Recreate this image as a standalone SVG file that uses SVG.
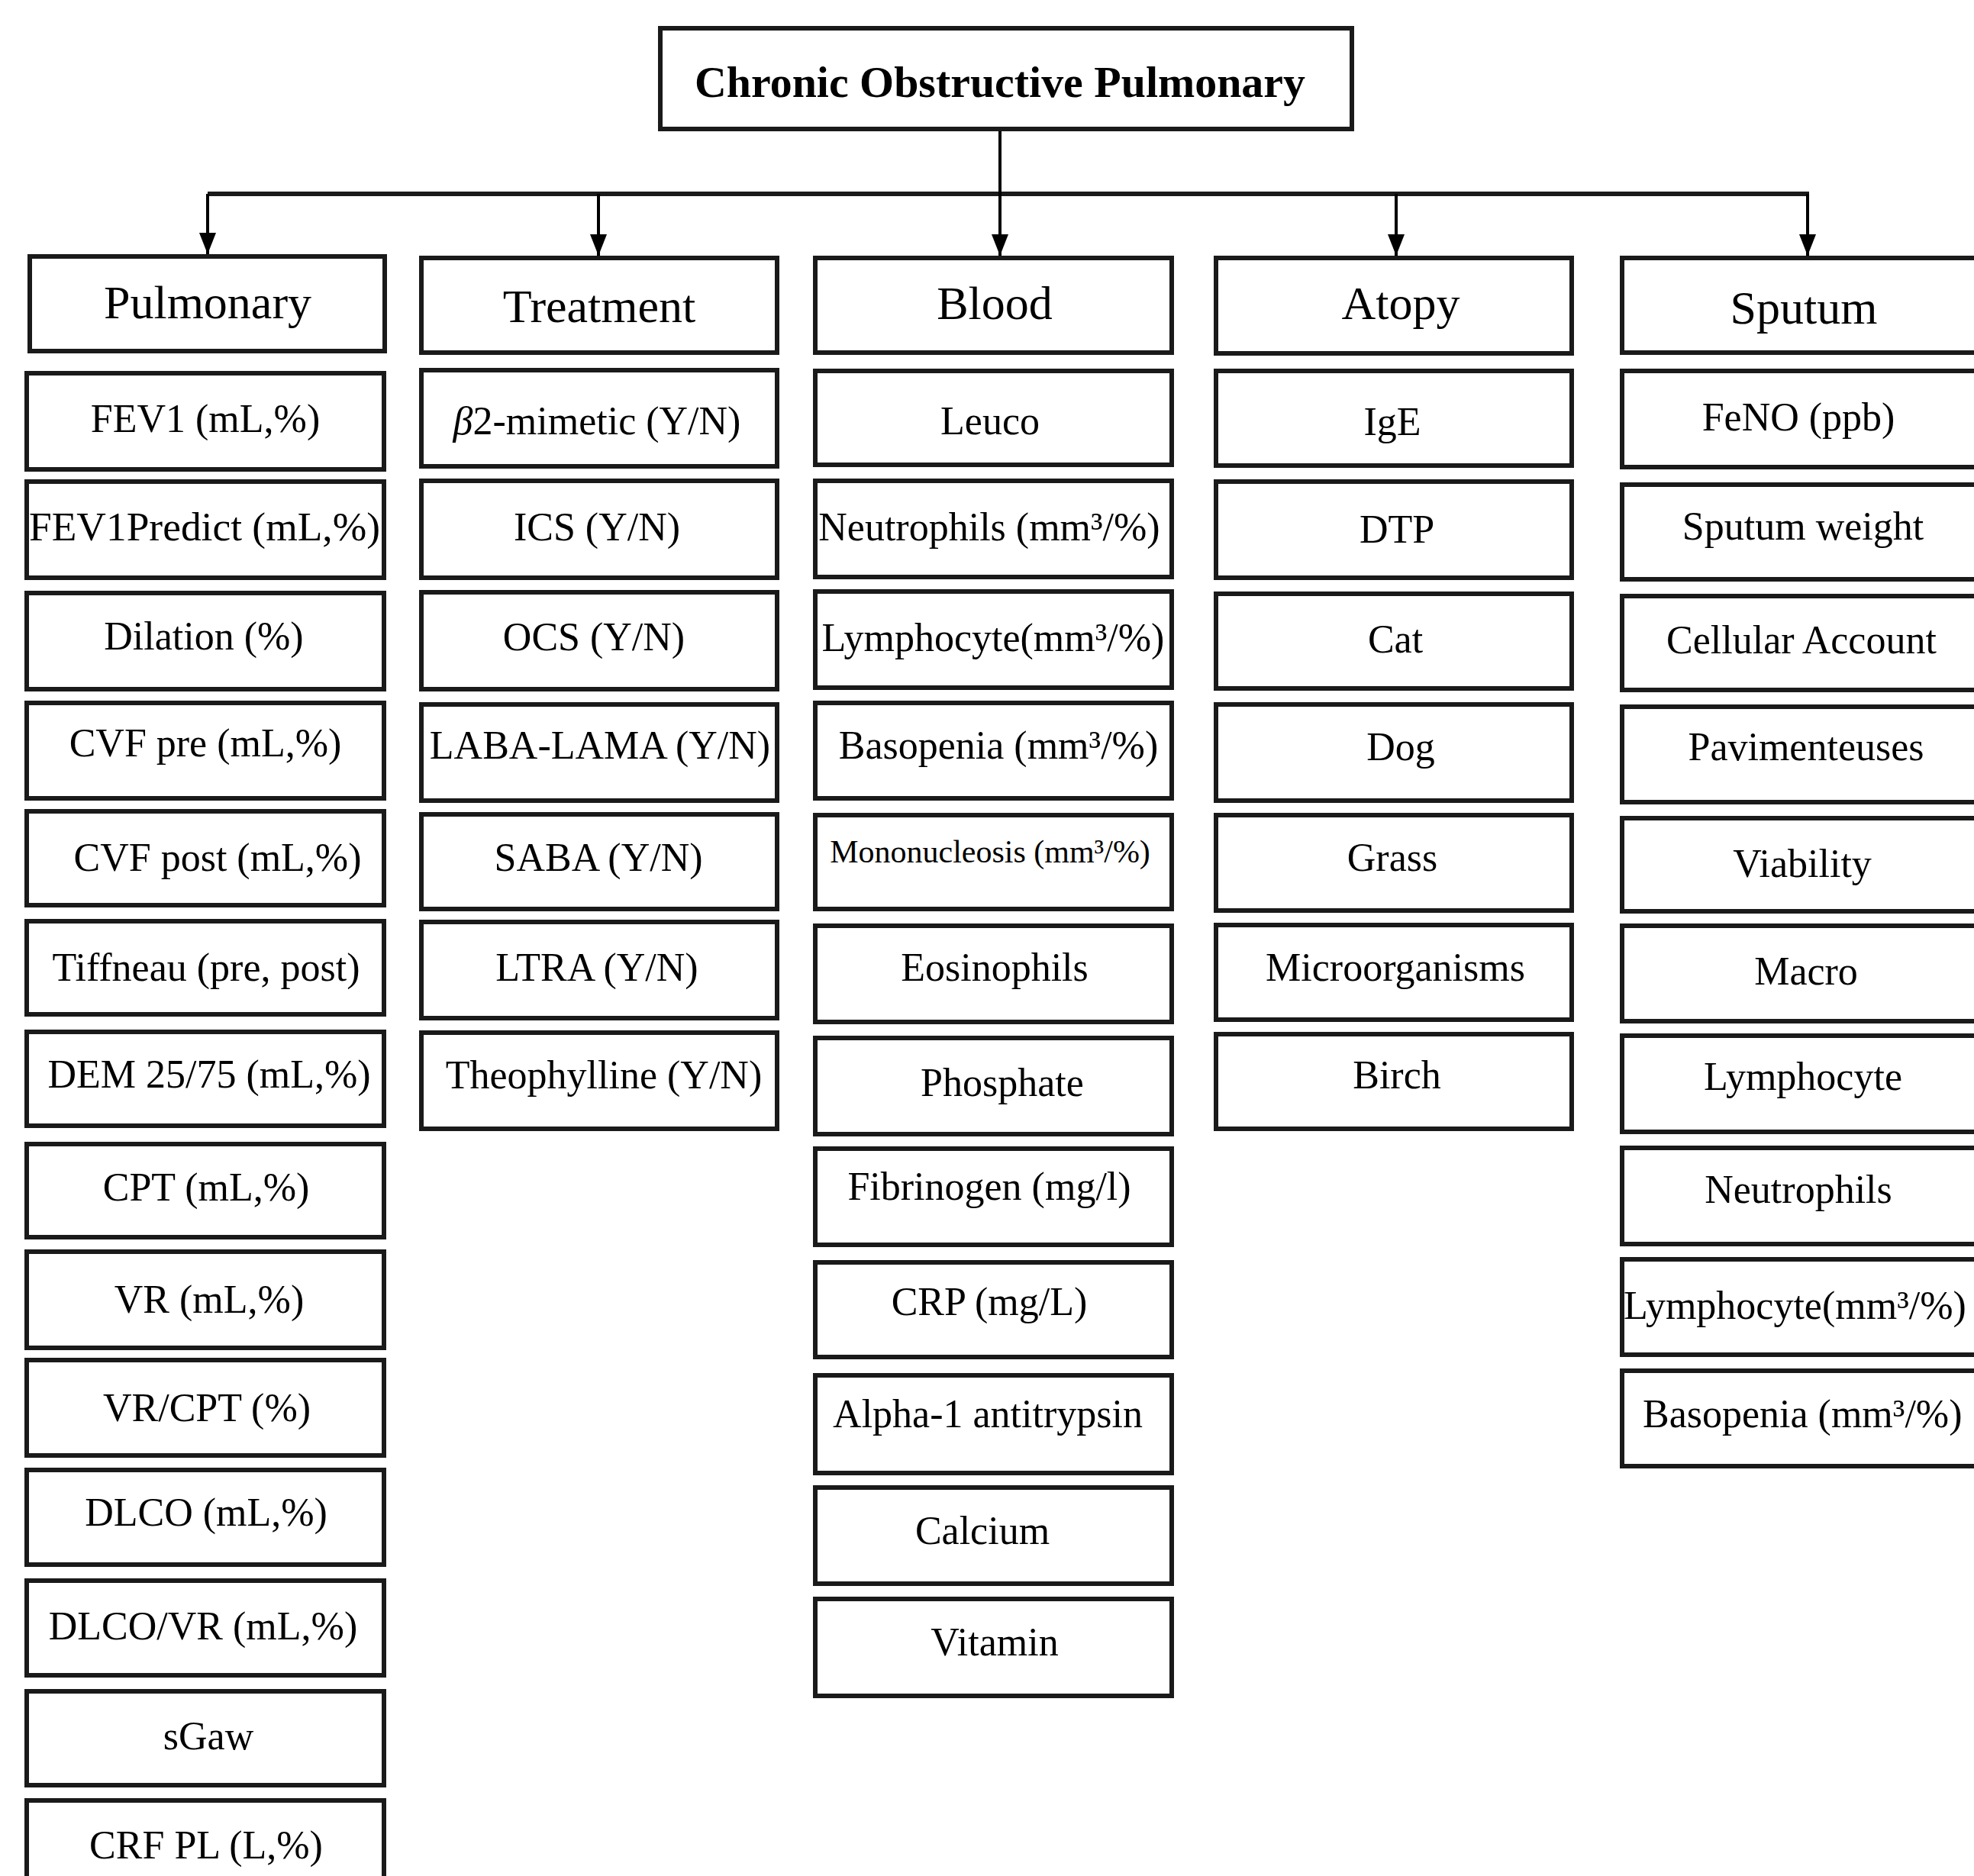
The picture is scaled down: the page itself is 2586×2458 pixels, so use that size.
<svg xmlns="http://www.w3.org/2000/svg" width="2586" height="2458" viewBox="0 0 2586 2458">
<defs>
<style>
.b{fill:#fff;stroke:#1a1a1a;stroke-width:6}
.t{font-family:"Liberation Serif","Times New Roman",serif;font-size:52px;fill:#000;text-anchor:middle}
.h{font-size:62px}
.sm{font-size:42px}
.st{text-anchor:start}
.ttl{font-family:"Liberation Serif","Times New Roman",serif;font-size:57px;font-weight:bold;fill:#000;text-anchor:middle}
.c{stroke:#000;stroke-width:4;fill:none}
.bus{stroke:#1a1a1a;stroke-width:6;fill:none}
</style>
<marker id="ah" viewBox="0 0 28 22" refX="28" refY="11" markerWidth="28" markerHeight="22" markerUnits="userSpaceOnUse" orient="auto">
<path d="M0,0 L28,11 L0,22 Z" fill="#000"/>
</marker>
</defs>
<rect width="2586" height="2458" fill="#fff"/>
<g id="connectors">
<line class="bus" x1="272" y1="254" x2="2370" y2="254"/>
<line class="c" x1="1310" y1="172" x2="1310" y2="254"/>
<path class="c" d="M272,254 L272,333" marker-end="url(#ah)"/>
<path class="c" d="M784,254 L784,335" marker-end="url(#ah)"/>
<path class="c" d="M1310,254 L1310,335" marker-end="url(#ah)"/>
<path class="c" d="M1829,254 L1829,335" marker-end="url(#ah)"/>
<path class="c" d="M2368,254 L2368,335" marker-end="url(#ah)"/>
</g>
<g id="root"><rect class="b" x="865" y="37" width="906" height="132"/><text class="ttl" x="1310" y="127" textLength="800" lengthAdjust="spacingAndGlyphs">Chronic Obstructive Pulmonary</text></g>
<g id="pulmonary"><rect class="b" x="39" y="336" width="465" height="124"/><text class="t h" x="272" y="417">Pulmonary</text></g>
<g id="treatment"><rect class="b" x="552" y="338" width="466" height="124"/><text class="t h" x="785" y="422">Treatment</text></g>
<g id="blood"><rect class="b" x="1068" y="338" width="467" height="124"/><text class="t h" x="1303" y="418">Blood</text></g>
<g id="atopy"><rect class="b" x="1593" y="338" width="466" height="125"/><text class="t h" x="1835" y="418">Atopy</text></g>
<g id="sputum"><rect class="b" x="2125" y="338" width="470" height="124"/><text class="t h" x="2363" y="424">Sputum</text></g>

<g id="p1"><rect class="b" x="35" y="489" width="468" height="126"/><text class="t" x="269" y="566">FEV1 (mL,%)</text></g>
<g id="p2"><rect class="b" x="35" y="631" width="468" height="126"/><text class="t" x="268" y="708" textLength="460" lengthAdjust="spacingAndGlyphs">FEV1Predict (mL,%)</text></g>
<g id="p3"><rect class="b" x="35" y="777" width="468" height="126"/><text class="t" x="267" y="851">Dilation (%)</text></g>
<g id="p4"><rect class="b" x="35" y="921" width="468" height="125"/><text class="t" x="269" y="991">CVF pre (mL,%)</text></g>
<g id="p5"><rect class="b" x="35" y="1063" width="468" height="123"/><text class="t" x="285" y="1141">CVF post (mL,%)</text></g>
<g id="p6"><rect class="b" x="35" y="1207" width="468" height="122"/><text class="t" x="270" y="1285">Tiffneau (pre, post)</text></g>
<g id="p7"><rect class="b" x="35" y="1352" width="468" height="123"/><text class="t" x="274" y="1425">DEM 25/75 (mL,%)</text></g>
<g id="p8"><rect class="b" x="35" y="1499" width="468" height="122"/><text class="t" x="270" y="1573">CPT (mL,%)</text></g>
<g id="p9"><rect class="b" x="35" y="1640" width="468" height="126"/><text class="t" x="274" y="1720">VR (mL,%)</text></g>
<g id="p10"><rect class="b" x="35" y="1782" width="468" height="125"/><text class="t" x="271" y="1862">VR/CPT (%)</text></g>
<g id="p11"><rect class="b" x="35" y="1926" width="468" height="124"/><text class="t" x="270" y="1999">DLCO (mL,%)</text></g>
<g id="p12"><rect class="b" x="35" y="2071" width="468" height="124"/><text class="t" x="266" y="2148">DLCO/VR (mL,%)</text></g>
<g id="p13"><rect class="b" x="35" y="2216" width="468" height="123"/><text class="t" x="273" y="2292">sGaw</text></g>
<g id="p14"><rect class="b" x="35" y="2359" width="468" height="140"/><text class="t" x="270" y="2435">CRF PL (L,%)</text></g>

<g id="t1"><rect class="b" x="552" y="485" width="466" height="126"/><text class="t" x="782" y="569"><tspan font-style="italic">β</tspan>2-mimetic (Y/N)</text></g>
<g id="t2"><rect class="b" x="552" y="630" width="466" height="127"/><text class="t" x="782" y="708">ICS (Y/N)</text></g>
<g id="t3"><rect class="b" x="552" y="776" width="466" height="127"/><text class="t" x="778" y="852">OCS (Y/N)</text></g>
<g id="t4"><rect class="b" x="552" y="923" width="466" height="126"/><text class="t" x="786" y="994">LABA-LAMA (Y/N)</text></g>
<g id="t5"><rect class="b" x="552" y="1067" width="466" height="124"/><text class="t" x="784" y="1141">SABA (Y/N)</text></g>
<g id="t6"><rect class="b" x="552" y="1208" width="466" height="126"/><text class="t" x="782" y="1285">LTRA (Y/N)</text></g>
<g id="t7"><rect class="b" x="552" y="1353" width="466" height="126"/><text class="t" x="791" y="1426">Theophylline (Y/N)</text></g>

<g id="b1"><rect class="b" x="1068" y="486" width="467" height="123"/><text class="t" x="1297" y="569">Leuco</text></g>
<g id="b2"><rect class="b" x="1068" y="630" width="467" height="126"/><text class="t" x="1296" y="708">Neutrophils (mm³/%)</text></g>
<g id="b3"><rect class="b" x="1068" y="775" width="467" height="126"/><text class="t" x="1301" y="853">Lymphocyte(mm³/%)</text></g>
<g id="b4"><rect class="b" x="1068" y="921" width="467" height="125"/><text class="t" x="1308" y="994">Basopenia (mm³/%)</text></g>
<g id="b5"><rect class="b" x="1068" y="1068" width="467" height="123"/><text class="t sm" x="1297" y="1130">Mononucleosis (mm³/%)</text></g>
<g id="b6"><rect class="b" x="1068" y="1213" width="467" height="126"/><text class="t" x="1303" y="1285">Eosinophils</text></g>
<g id="b7"><rect class="b" x="1068" y="1360" width="467" height="126"/><text class="t" x="1313" y="1436">Phosphate</text></g>
<g id="b8"><rect class="b" x="1068" y="1505" width="467" height="126"/><text class="t" x="1296" y="1572">Fibrinogen (mg/l)</text></g>
<g id="b9"><rect class="b" x="1068" y="1654" width="467" height="124"/><text class="t" x="1296" y="1723">CRP (mg/L)</text></g>
<g id="b10"><rect class="b" x="1068" y="1802" width="467" height="128"/><text class="t" x="1294" y="1870">Alpha-1 antitrypsin</text></g>
<g id="b11"><rect class="b" x="1068" y="1949" width="467" height="126"/><text class="t" x="1287" y="2023">Calcium</text></g>
<g id="b12"><rect class="b" x="1068" y="2095" width="467" height="127"/><text class="t" x="1303" y="2169">Vitamin</text></g>

<g id="a1"><rect class="b" x="1593" y="486" width="466" height="124"/><text class="t" x="1824" y="570">IgE</text></g>
<g id="a2"><rect class="b" x="1593" y="631" width="466" height="126"/><text class="t" x="1830" y="711">DTP</text></g>
<g id="a3"><rect class="b" x="1593" y="778" width="466" height="124"/><text class="t" x="1828" y="855">Cat</text></g>
<g id="a4"><rect class="b" x="1593" y="923" width="466" height="126"/><text class="t" x="1835" y="996">Dog</text></g>
<g id="a5"><rect class="b" x="1593" y="1068" width="466" height="125"/><text class="t" x="1824" y="1141">Grass</text></g>
<g id="a6"><rect class="b" x="1593" y="1212" width="466" height="124"/><text class="t" x="1828" y="1285">Microorganisms</text></g>
<g id="a7"><rect class="b" x="1593" y="1355" width="466" height="124"/><text class="t" x="1830" y="1426">Birch</text></g>

<g id="s1"><rect class="b" x="2125" y="486" width="470" height="126"/><text class="t" x="2356" y="564">FeNO (ppb)</text></g>
<g id="s2"><rect class="b" x="2125" y="635" width="470" height="124"/><text class="t" x="2362" y="707">Sputum weight</text></g>
<g id="s3"><rect class="b" x="2125" y="781" width="470" height="123"/><text class="t" x="2360" y="856">Cellular Account</text></g>
<g id="s4"><rect class="b" x="2125" y="926" width="470" height="125"/><text class="t" x="2366" y="996">Pavimenteuses</text></g>
<g id="s5"><rect class="b" x="2125" y="1072" width="470" height="122"/><text class="t" x="2361" y="1149">Viability</text></g>
<g id="s6"><rect class="b" x="2125" y="1213" width="470" height="125"/><text class="t" x="2366" y="1290">Macro</text></g>
<g id="s7"><rect class="b" x="2125" y="1357" width="470" height="126"/><text class="t" x="2362" y="1428">Lymphocyte</text></g>
<g id="s8"><rect class="b" x="2125" y="1504" width="470" height="126"/><text class="t" x="2356" y="1576">Neutrophils</text></g>
<g id="s9"><rect class="b" x="2125" y="1650" width="470" height="125"/><text class="t st" x="2127" y="1728">Lymphocyte(mm³/%)</text></g>
<g id="s10"><rect class="b" x="2125" y="1796" width="470" height="125"/><text class="t st" x="2152" y="1870">Basopenia (mm³/%)</text></g>
</svg>
